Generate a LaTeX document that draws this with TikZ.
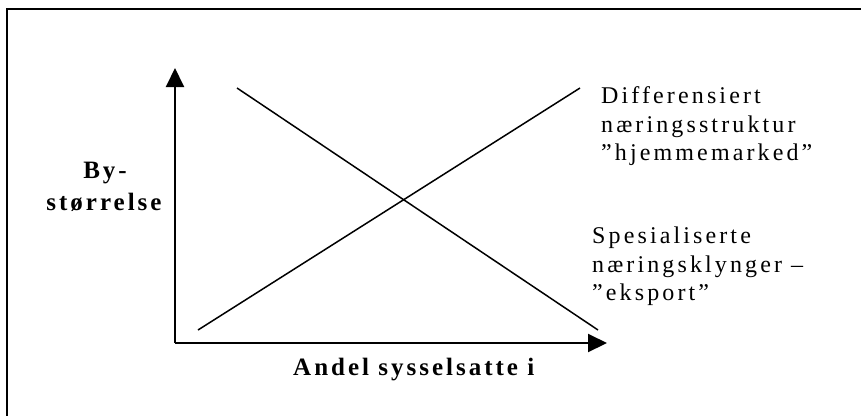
\documentclass[tikz,border=0pt]{standalone}
\usepackage{fontspec}
\setmainfont{Liberation Serif}
\newfontfamily\lblfont[LetterSpace=13]{Liberation Serif}
\newfontfamily\axfont[LetterSpace=12]{Liberation Serif}
\usetikzlibrary{arrows.meta}
\tikzset{
  plain/.style={inner sep=0pt, anchor=base west, font=\lblfont\fontsize{24}{28}\selectfont},
  axlabel/.style={inner sep=0pt, font=\axfont\bfseries\fontsize{25}{29}\selectfont},
  axisline/.style={line width=2pt, -{Triangle[length=19pt,width=18pt]}},
  curve/.style={line width=1.5pt},
  frameline/.style={line width=2.2pt}
}
\begin{document}
\begin{tikzpicture}[x=1pt,y=-1pt]
\useasboundingbox (0,0) rectangle (861,416);
\fill[white] (0,0) rectangle (861,416);
% frame (clipped at right and bottom)
\coordinate (fr) at (861,9);
\coordinate (ftl) at (7,9);
\coordinate (fb) at (7,416);
\draw[frameline] (fr) -- (ftl) -- (fb);
% axes
\coordinate (O) at (175,343);
\coordinate (ytip) at (175,68);
\coordinate (xtip) at (607,343);
\draw[axisline] (O) -- (ytip);
\draw[axisline] (O) -- (xtip);
% lines
\coordinate (a1) at (198,330);
\coordinate (a2) at (580,88);
\coordinate (b1) at (237,88);
\coordinate (b2) at (598,330);
\draw[curve] (a1) -- (a2);
\draw[curve] (b1) -- (b2);
% labels
\node[axlabel, anchor=base] (by1) at (105,178) {By-};
\node[axlabel, anchor=base] (by2) at (104,210) {størrelse};
\node[axlabel, anchor=base west] (xl) at (293,375) {Andel sysselsatte i};
\node[plain] (d1) at (601,103) {Differensiert};
\node[plain] (d2) at (601,132) {næringsstruktur};
\node[plain] (d3) at (601,160) {”hjemmemarked”};
\node[plain] (s1) at (592,243) {Spesialiserte};
\node[plain] (s2) at (592,272) {næringsklynger –};
\node[plain] (s3) at (592,300) {”eksport”};
\end{tikzpicture}
\end{document}
